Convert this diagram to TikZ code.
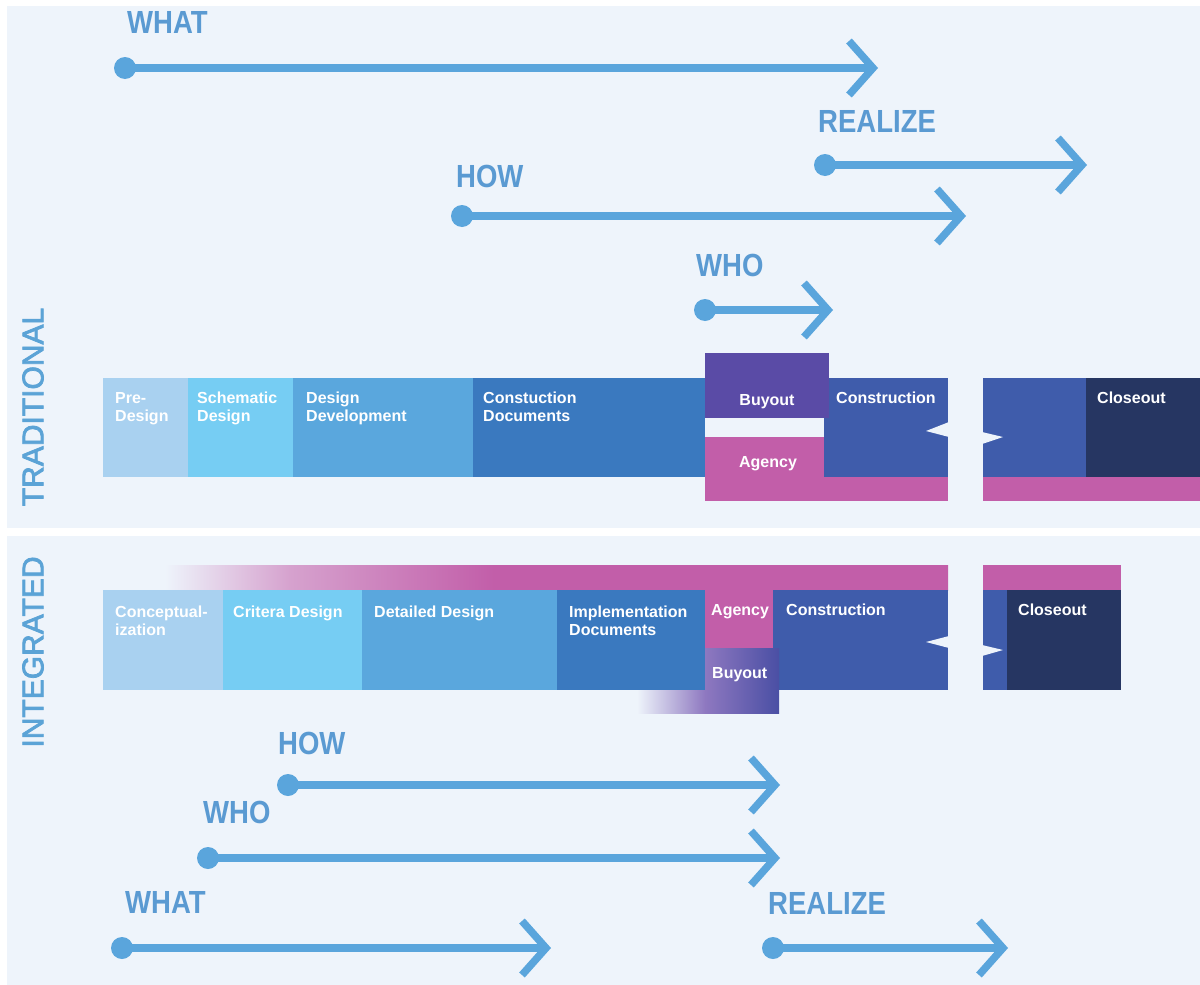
\documentclass[tikz,border=0pt]{standalone}
\usepackage{fontspec}
\setmainfont{Liberation Sans}
\newfontfamily\lblfont[FakeStretch=0.86]{Liberation Sans}
\newfontfamily\sidefont[FakeBold=2.5]{Liberation Sans}
\usetikzlibrary{arrows.meta}
\definecolor{panelbg}{HTML}{EEF4FB}
\definecolor{arrowblue}{HTML}{5AA5DC}
\definecolor{lblblue}{HTML}{5A9AD2}
\definecolor{sidelbl}{HTML}{5BA3D6}
\definecolor{cA}{HTML}{A9D1F0}
\definecolor{cB}{HTML}{76CDF3}
\definecolor{cC}{HTML}{5AA7DD}
\definecolor{cD}{HTML}{3A79BF}
\definecolor{cpurple}{HTML}{5A4BA6}
\definecolor{cpink}{HTML}{C25EA9}
\definecolor{cconst}{HTML}{3F5CAB}
\definecolor{cclose}{HTML}{263662}
\definecolor{buyA}{HTML}{8E78C0}
\definecolor{buyB}{HTML}{4A4FA4}
\pgfdeclarehorizontalshading{pinkfade}{100bp}{color(0bp)=(panelbg); color(25bp)=(panelbg); color(33bp)=(cpink!55!panelbg); color(46bp)=(cpink); color(100bp)=(cpink)}
\pgfdeclarehorizontalshading{buyfade}{100bp}{color(0bp)=(panelbg); color(25bp)=(panelbg); color(49bp)=(buyA); color(75bp)=(buyB); color(100bp)=(buyB)}
\tikzset{
  flow/.style={draw=arrowblue, line width=7.5pt, -{Straight Barb[length=24pt,width=54pt]}},
  dot/.style={circle, fill=arrowblue, minimum size=22pt, inner sep=0pt},
  lbl/.style={text=lblblue, font=\lblfont\bfseries\fontsize{32}{36}\selectfont, anchor=base west, inner sep=0pt},
  phase/.style={text=white, font=\bfseries\fontsize{16}{18.5}\selectfont, align=left, anchor=base west, inner sep=0pt},
  phasetwo/.style={phase, yshift=-18.5pt},
  phasec/.style={text=white, font=\bfseries\fontsize{16}{18.5}\selectfont, anchor=base, inner sep=0pt},
  side/.style={text=sidelbl, font=\sidefont\fontsize{30}{32}\selectfont, rotate=90, inner sep=0pt},
  notch/.style={fill=panelbg}
}
\begin{document}
\begin{tikzpicture}[x=1pt,y=-1pt]
\useasboundingbox (0,0) rectangle (1200,985);
\fill[white] (0,0) rectangle (1200,985);
\fill[panelbg] (7,6) rectangle (1200,528);
\fill[panelbg] (7,536) rectangle (1200,985);

% side labels
\node[side] (trad) at (33,407) {TRADITIONAL};
\node[side] (integ) at (33,652) {INTEGRATED};

% ---------- traditional bar ----------
\fill[cA] (103,378) rectangle (188,477);
\fill[cB] (188,378) rectangle (293,477);
\fill[cC] (293,378) rectangle (473,477);
\fill[cD] (473,378) rectangle (705,477);
\fill[cpink] (705,437) rectangle (948,501);
\fill[cconst] (824,378) rectangle (948,477);
\fill[cpurple] (705,353) rectangle (829,418);
\fill[cpink] (983,477) rectangle (1200,501);
\fill[cconst] (983,378) rectangle (1086,477);
\fill[cclose] (1086,378) rectangle (1200,477);
\fill[notch] (949,422) -- (926,431) -- (949,437) -- cycle;
\fill[notch] (982,432) -- (1003,437) -- (982,444) -- cycle;

\node[phasetwo] (t1) at (115,403) {Pre-\\Design};
\node[phasetwo] (t2) at (197,403) {Schematic\\Design};
\node[phasetwo] (t3) at (306,403) {Design\\Development};
\node[phasetwo] (t4) at (483,403) {Constuction\\Documents};
\node[phasec] (t5) at (767,405) {Buyout};
\node[phasec] (t6) at (768,467) {Agency};
\node[phase] (t7) at (836,403) {Construction};
\node[phase] (t8) at (1097,403) {Closeout};

% ---------- integrated bar ----------
\fill[shading=pinkfade] (165,565) rectangle (948,590);
\fill[cpink] (983,565) rectangle (1121,590);
\fill[cpink] (705,589) rectangle (773,648);
\fill[cconst] (773,590) rectangle (948,690);
\fill[shading=buyfade] (637,648) rectangle (779,713);
\fill[cA] (103,590) rectangle (223,690);
\fill[cB] (223,590) rectangle (362,690);
\fill[cC] (362,590) rectangle (557,690);
\fill[cD] (557,590) rectangle (705,690);
\fill[cconst] (983,590) rectangle (1007,690);
\fill[cclose] (1007,590) rectangle (1121,690);
\fill[notch] (949,636) -- (926,642) -- (949,648) -- cycle;
\fill[notch] (982,645) -- (1003,650) -- (982,656) -- cycle;

\node[phasetwo] (i1) at (115,617) {Conceptual-\\ization};
\node[phase] (i2) at (233,617) {Critera Design};
\node[phase] (i3) at (374,617) {Detailed Design};
\node[phasetwo] (i4) at (569,617) {Implementation\\Documents};
\node[phase] (i5) at (711,615) {Agency};
\node[phase] (i6) at (712,678) {Buyout};
\node[phase] (i7) at (786,615) {Construction};
\node[phase] (i8) at (1018,615) {Closeout};

% ---------- top arrows ----------
\node[lbl] (lwhat1) at (127,34) {WHAT};
\node[dot] (swhat1) at (125,68) {};
\coordinate (ewhat1) at (878,68);
\draw[flow] (swhat1.center) -- (ewhat1);

\node[lbl] (lreal1) at (818,132) {REALIZE};
\node[dot] (sreal1) at (825,165) {};
\coordinate (ereal1) at (1087,165);
\draw[flow] (sreal1.center) -- (ereal1);

\node[lbl] (lhow1) at (456,187) {HOW};
\node[dot] (show1) at (462,216) {};
\coordinate (ehow1) at (966,216);
\draw[flow] (show1.center) -- (ehow1);

\node[lbl] (lwho1) at (696,276) {WHO};
\node[dot] (swho1) at (705,310) {};
\coordinate (ewho1) at (833,310);
\draw[flow] (swho1.center) -- (ewho1);

% ---------- bottom arrows ----------
\node[lbl] (lhow2) at (278,754) {HOW};
\node[dot] (show2) at (288,785) {};
\coordinate (ehow2) at (780,785);
\draw[flow] (show2.center) -- (ehow2);

\node[lbl] (lwho2) at (203,823) {WHO};
\node[dot] (swho2) at (208,858) {};
\coordinate (ewho2) at (780,858);
\draw[flow] (swho2.center) -- (ewho2);

\node[lbl] (lwhat2) at (125,913) {WHAT};
\node[dot] (swhat2) at (122,948) {};
\coordinate (ewhat2) at (551,948);
\draw[flow] (swhat2.center) -- (ewhat2);

\node[lbl] (lreal2) at (768,914) {REALIZE};
\node[dot] (sreal2) at (773,948) {};
\coordinate (ereal2) at (1008,948);
\draw[flow] (sreal2.center) -- (ereal2);
\end{tikzpicture}
\end{document}
